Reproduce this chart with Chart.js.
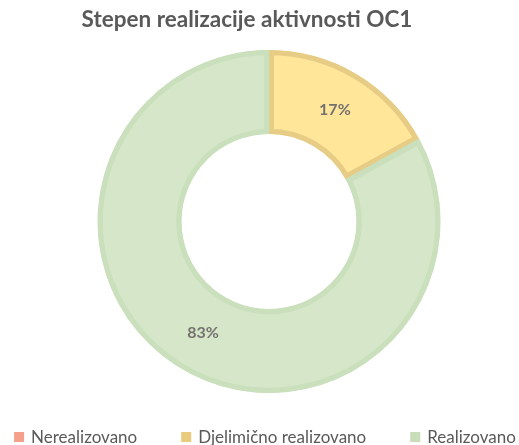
<!DOCTYPE html>
<html>
<head>
<meta charset="utf-8">
<script src="https://cdn.jsdelivr.net/npm/chart.js@4"></script>
<style>
  html, body { margin: 0; padding: 0; background: #fff; }
  #wrap { width: 519px; height: 445px; position: relative; }
</style>
</head>
<body>
<div id="wrap"><canvas id="c"></canvas></div>
<script>
// --- Daten ---
const chartTitle = 'Stepen realizacije aktivnosti OC1';
const categories = ['Nerealizovano', 'Djelimično realizovano', 'Realizovano'];
const values = [0, 17, 83];
const percentLabels = ['0%', '17%', '83%'];

// --- Farben ---
const fillColors = ['#F8B3A0', '#FFE699', '#D5E7C8'];
const borderColors = ['#F4A08A', '#E6CC85', '#CADFBC'];
const legendColors = ['#F4A08A', '#E8CB7D', '#C8DDB8'];
const textGray = '#595959';

// Titel, Prozent-Labels und Legende selbst zeichnen (wie Excel)
const excelDecor = {
  id: 'excelDecor',
  afterDatasetsDraw(chart) {
    const ctx = chart.ctx;
    const meta = chart.getDatasetMeta(0);
    ctx.save();
    ctx.font = 'bold 16px Lato';
    ctx.fillStyle = '#767171';
    ctx.textAlign = 'center';
    ctx.textBaseline = 'middle';
    meta.data.forEach((arc, i) => {
      if (!values[i]) return;
      const p = arc.tooltipPosition();
      ctx.fillText(percentLabels[i], p.x, p.y);
    });
    ctx.restore();
  },
  afterDraw(chart) {
    const ctx = chart.ctx;
    ctx.save();
    // Titel
    ctx.font = 'bold 22.5px Lato';
    ctx.fillStyle = textGray;
    ctx.textAlign = 'center';
    ctx.textBaseline = 'middle';
    ctx.fillText(chartTitle, 247, 20);

    // Legende
    ctx.font = '17px Lato';
    ctx.textAlign = 'left';
    const box = 10, gapText = 7, gapItem = 44;
    const widths = categories.map(c => box + gapText + ctx.measureText(c).width);
    const total = widths.reduce((a, b) => a + b, 0) + gapItem * (categories.length - 1);
    let x = 265 - total / 2;
    const y = 437;
    categories.forEach((c, i) => {
      ctx.fillStyle = legendColors[i];
      ctx.fillRect(x, y - box / 2, box, box);
      ctx.fillStyle = textGray;
      ctx.fillText(c, x + box + gapText, y + 1);
      x += widths[i] + gapItem;
    });
    ctx.restore();
  }
};

const chart = new Chart(document.getElementById('c'), {
  type: 'doughnut',
  data: {
    labels: categories,
    datasets: [{
      data: values,
      backgroundColor: fillColors,
      borderColor: borderColors,
      borderWidth: [0, 5, 5],
      borderAlign: 'inner'
    }]
  },
  options: {
    responsive: true,
    maintainAspectRatio: false,
    animation: false,
    cutout: '51%',
    layout: { padding: { top: 50, bottom: 52, left: 97, right: 78 } },
    plugins: {
      legend: { display: false },
      title: { display: false },
      tooltip: { enabled: false }
    }
  },
  plugins: [excelDecor]
});
</script>
</body>
</html>
